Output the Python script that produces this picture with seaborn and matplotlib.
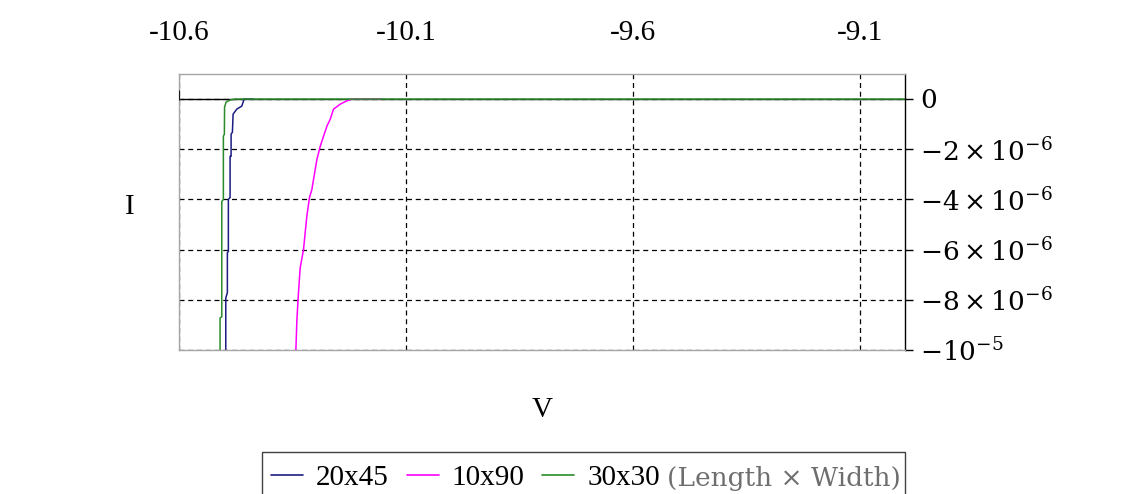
# I-V curves for three device geometries (Length x Width)
import matplotlib.pyplot as plt
import numpy as np
import pandas as pd
import seaborn as sns
from matplotlib.patches import Rectangle

# %% DATA
sizes = ["20x45", "10x90", "30x30"]
colors = ["#1c1c82", "#ff00ff", "#2a8c2a"]

v_20x45 = [-10.4969, -10.4969, -10.4934, -10.4934, -10.4912, -10.4912, -10.4874,
           -10.4874, -10.4852, -10.4852, -10.4823, -10.4808, -10.4726, -10.4616,
           -10.4565, -10.4366]
i_20x45 = [-10.0, -7.92, -7.72, -6.12, -6.08, -4.0, -3.92, -2.28, -2.28, -1.4,
           -1.32, -0.6, -0.4, -0.28, 0.0, 0.0]

v_10x90 = [-10.3424, -10.3402, -10.3366, -10.3329, -10.3256, -10.3219, -10.3181,
           -10.3124, -10.3071, -10.3035, -10.2960, -10.2887, -10.2815, -10.2740,
           -10.2667, -10.2594, -10.2446, -10.2298, -10.2188, -10.1547]
i_10x90 = [-10.0, -8.8, -7.68, -6.72, -6.0, -5.32, -4.64, -3.92, -3.6, -3.2,
           -2.4, -1.88, -1.48, -1.08, -0.8, -0.4, -0.2, -0.068, 0.0, 0.0]

v_30x30 = [-10.5095, -10.5095, -10.5057, -10.5057, -10.5022, -10.5022, -10.5000,
           -10.4996, -10.4962, -10.4874, -10.4764, -9.0]
i_30x30 = [-10.0, -8.72, -8.68, -4.08, -4.0, -1.48, -1.4, -0.32, -0.12, -0.04,
           0.0, 0.0]

x_ticks = [-10.6, -10.1, -9.6, -9.1]
x_tick_labels = ["-10.6", "-10.1", "-9.6", "-9.1"]
y_ticks = [0, -2e-6, -4e-6, -6e-6, -8e-6, -1e-5]
y_tick_labels = [r"$0$", r"$-2 \times 10^{-6}$", r"$-4 \times 10^{-6}$",
                 r"$-6 \times 10^{-6}$", r"$-8 \times 10^{-6}$", r"$-10^{-5}$"]

# long-form table, currents in amperes
df = pd.concat([
    pd.DataFrame({"V": v_20x45, "I": np.array(i_20x45) * 1e-6, "size": "20x45"}),
    pd.DataFrame({"V": v_10x90, "I": np.array(i_10x90) * 1e-6, "size": "10x90"}),
    pd.DataFrame({"V": v_30x30, "I": np.array(i_30x30) * 1e-6, "size": "30x30"}),
], ignore_index=True)

# %% PLOT
sns.set_style("white")
plt.rcParams["font.family"] = ["Liberation Serif", "DejaVu Serif"]
plt.rcParams["mathtext.fontset"] = "dejavuserif"
plt.rcParams["text.color"] = "black"
plt.rcParams["axes.labelcolor"] = "black"
plt.rcParams["xtick.color"] = "black"
plt.rcParams["ytick.color"] = "black"

fig = plt.figure(figsize=(11.43, 4.94), dpi=100)
ax = fig.add_axes([179 / 1143, 1 - 350 / 494, 726 / 1143, 276 / 494])

ax.axhline(0, color="black", lw=1.0, zorder=1.5)
ax.axvline(-10.6, ymin=0.905, ymax=0.938, color="black", lw=1.2, zorder=3)

sns.lineplot(data=df, x="V", y="I", hue="size", hue_order=sizes,
             palette=colors, estimator=None, sort=False, lw=1.1, ax=ax)

ax.set_xlim(-10.6, -9.0)
ax.set_ylim(-1e-5, 1e-6)

ax.xaxis.tick_top()
ax.set_xticks(x_ticks)
ax.set_xticklabels(x_tick_labels)
ax.tick_params(axis="x", length=0, pad=20, labelsize=21, labelcolor="black")

ax.yaxis.tick_right()
ax.set_yticks(y_ticks)
ax.set_yticklabels(y_tick_labels)
ax.tick_params(axis="y", direction="out", length=6, width=1, color="black",
               pad=5, labelsize=19, labelcolor="black", right=True)

ax.grid(True, color="black", linestyle=(0, (4, 3)), lw=0.9)

for side in ["top", "left", "bottom"]:
    ax.spines[side].set_color("#a6a6a6")
    ax.spines[side].set_linewidth(1.0)
ax.spines["right"].set_color("black")
ax.spines["right"].set_linewidth(1.0)

ax.set_xlabel("V", fontsize=21, color="black")
ax.xaxis.set_label_coords(0.5, -0.17)
ax.set_ylabel("I", fontsize=21, rotation=0, color="black")
ax.yaxis.set_label_coords(-0.0675, 0.518)
ax.yaxis.label.set_verticalalignment("center")
ax.yaxis.label.set_horizontalalignment("center")

sns.move_legend(ax, "center left", bbox_to_anchor=(271 / 1143, 1 - 478 / 494),
                bbox_transform=fig.transFigure, ncol=3, frameon=False, title=None,
                fontsize=21, handlelength=1.1, handletextpad=0.45,
                columnspacing=0.6, borderpad=0, borderaxespad=0)
leg = ax.get_legend()
for line in leg.get_lines():
    line.set_linewidth(1.2)
for txt in leg.get_texts():
    txt.set_color("black")

# grey suffix after the legend, then a frame round both
fig.canvas.draw()
bb = leg.get_window_extent()
fig.text((bb.x1 + 7) / 1143, 1 - 478 / 494, "(Length \u00d7 Width)",
         fontsize=19, family="DejaVu Serif", color="#6e6e6e",
         va="center", ha="left")
fig.patches.append(Rectangle((262 / 1143, -0.1), (905 - 262) / 1143,
                             0.1 + 1 - 452 / 494, transform=fig.transFigure,
                             fill=False, edgecolor="#404040", lw=1.0))

fig.savefig("out.png", dpi=100)
